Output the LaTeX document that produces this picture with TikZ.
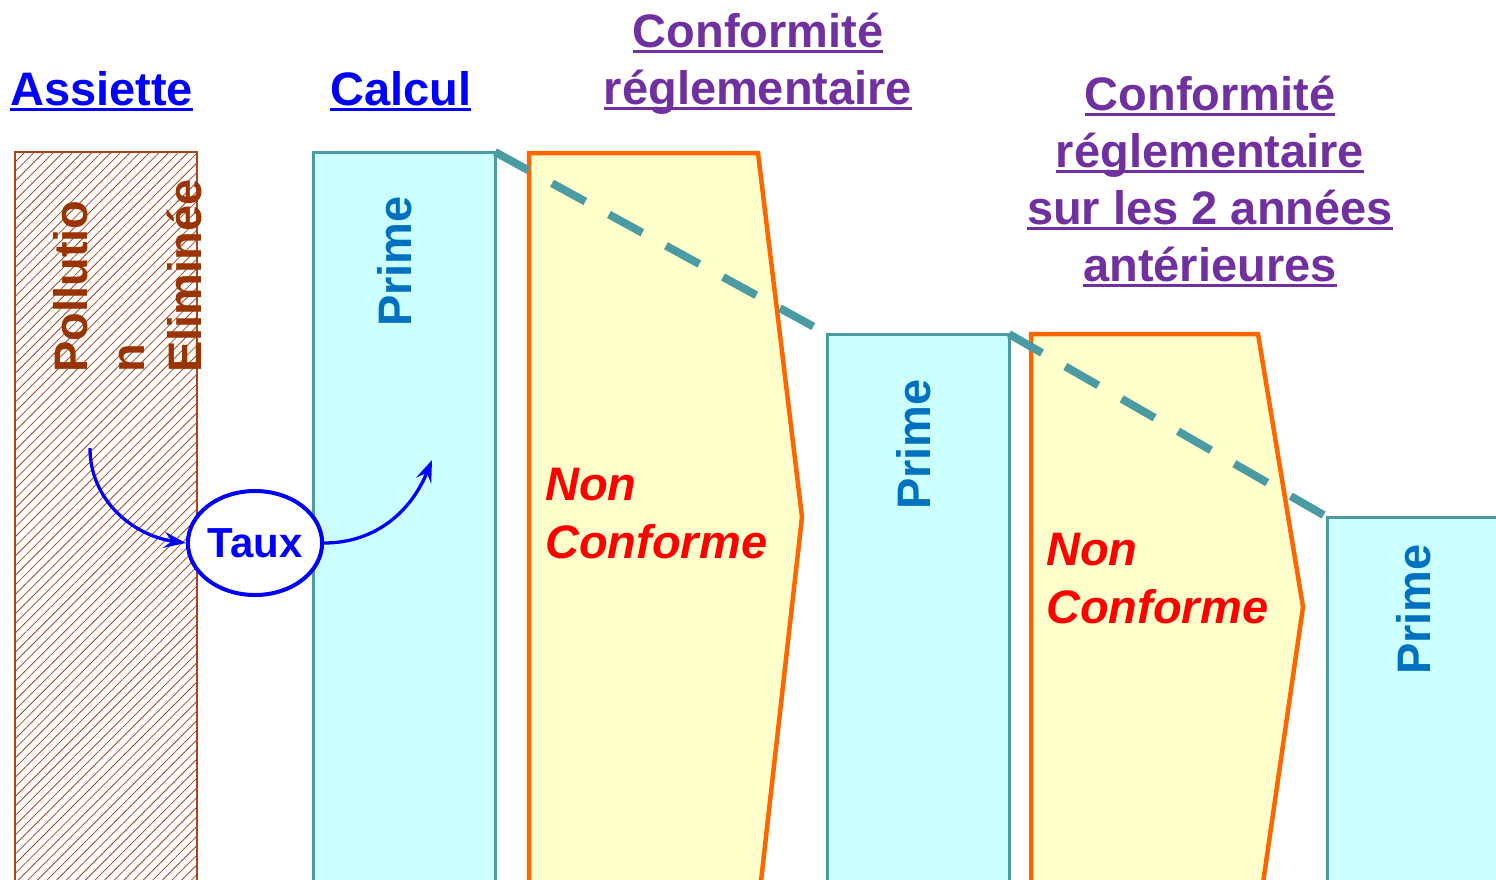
\documentclass[tikz,border=0pt]{standalone}
\usepackage{fontspec}
\setmainfont{Liberation Sans}
\usetikzlibrary{arrows.meta,shapes.geometric,patterns.meta}
\definecolor{hatchbrown}{HTML}{A5461E}
\definecolor{textbrown}{HTML}{993300}
\definecolor{primeteal}{HTML}{4A9BA2}
\definecolor{primefill}{HTML}{CCFFFF}
\definecolor{primeblue}{HTML}{0070C0}
\definecolor{ncfill}{HTML}{FFFFCC}
\definecolor{ncorange}{HTML}{FF6600}
\definecolor{titlepurple}{HTML}{7030A0}
\newcommand{\undl}[1]{\setbox0\hbox{#1}\rlap{\rule[-6pt]{\wd0}{2.8pt}}\box0}

\tikzset{
  primebox/.style={rectangle, draw=primeteal, line width=3pt, fill=primefill,
    minimum width=182pt, inner sep=0pt, outer sep=0pt, anchor=north west},
  primetext/.style={rotate=90, anchor=base west, inner sep=0pt, text=primeblue},
  nctext/.style={anchor=base west, inner sep=0pt, text=red, font=\bfseries\itshape\fontsize{47}{57}\selectfont},
  ncshape/.style={draw=ncorange, line width=4.5pt, fill=ncfill, line join=miter},
  title/.style={inner sep=0pt},
  dashline/.style={draw=primeteal, line width=8pt, dash pattern=on 38pt off 27pt},
  flowarrow/.style={draw=blue, line width=3.3pt, -{Stealth[length=22pt,width=16pt,inset=8pt]}}
}

\begin{document}
\begin{tikzpicture}[x=1pt, y=-1pt, font=\bfseries\fontsize{47}{57}\selectfont]
  \useasboundingbox (0,0) rectangle (1496,879);
  % assiette
  \node[rectangle, draw=hatchbrown, line width=2pt, inner sep=0pt, outer sep=0pt,
    anchor=north west, minimum width=182pt, minimum height=740pt,
    pattern={Lines[angle=45,distance=6.8pt,line width=0.8pt]}, pattern color=hatchbrown]
    (pollbox) at (15,152) {};
  \node[rotate=90, anchor=north west, align=left, inner sep=0pt, text=textbrown]
    (poll) at (53,373) {Pollutio\\n\\Eliminée};
  % primes
  \node[primebox, minimum height=740pt] (prime1) at (313,152) {};
  \node[primebox, minimum height=555pt] (prime2) at (827,334) {};
  \node[primebox, minimum height=372pt] (prime3) at (1327,517) {};
  \node[primetext] (ptext1) at (411,327) {Prime};
  \node[primetext] (ptext2) at (930,510) {Prime};
  \node[primetext] (ptext3) at (1430,675) {Prime};
  % non conforme
  \draw[ncshape] (529,153) -- (758,153) -- (802,517) -- (760,890) -- (529,890) -- cycle;
  \draw[ncshape] (1031,334) -- (1258,334) -- (1303,607) -- (1262,890) -- (1031,890) -- cycle;
  \node[nctext] (non1) at (545,500) {Non};
  \node[nctext] (conforme1) at (545,558) {Conforme};
  \node[nctext] (non2) at (1046,565) {Non};
  \node[nctext] (conforme2) at (1046,623) {Conforme};
  % evolution
  \draw[dashline] (prime1.north east) -- (prime2.north west);
  \draw[dashline] (prime2.north east) -- (prime3.north west);
  % taux
  \node[ellipse, draw=blue, line width=4pt, fill=white, minimum width=126pt,
    minimum height=104pt, inner sep=0pt, text=blue, font=\bfseries\fontsize{42}{50}\selectfont]
    (taux) at (255,543) {Taux};
  \coordinate (from) at (90,448);
  \coordinate (to) at (432,460);
  \draw[flowarrow] (from) to[out=-90, in=172] (taux.west);
  \draw[flowarrow] (taux.east) to[out=0, in=-112] (to);
  % titles
  \node[title, anchor=base west, text=blue] (assiette) at (10,105) {\undl{Assiette}};
  \node[title, anchor=base west, text=blue] (calcul) at (330,105) {\undl{Calcul}};
  \node[title, anchor=base, align=center, text=titlepurple] (conf1) at (758,104)
    {\undl{Conformité}\\\undl{réglementaire}};
  \node[title, anchor=base, align=center, text=titlepurple] (conf2) at (1210,281)
    {\undl{Conformité}\\\undl{réglementaire}\\\undl{sur les 2 années}\\\undl{antérieures}};
\end{tikzpicture}
\end{document}
